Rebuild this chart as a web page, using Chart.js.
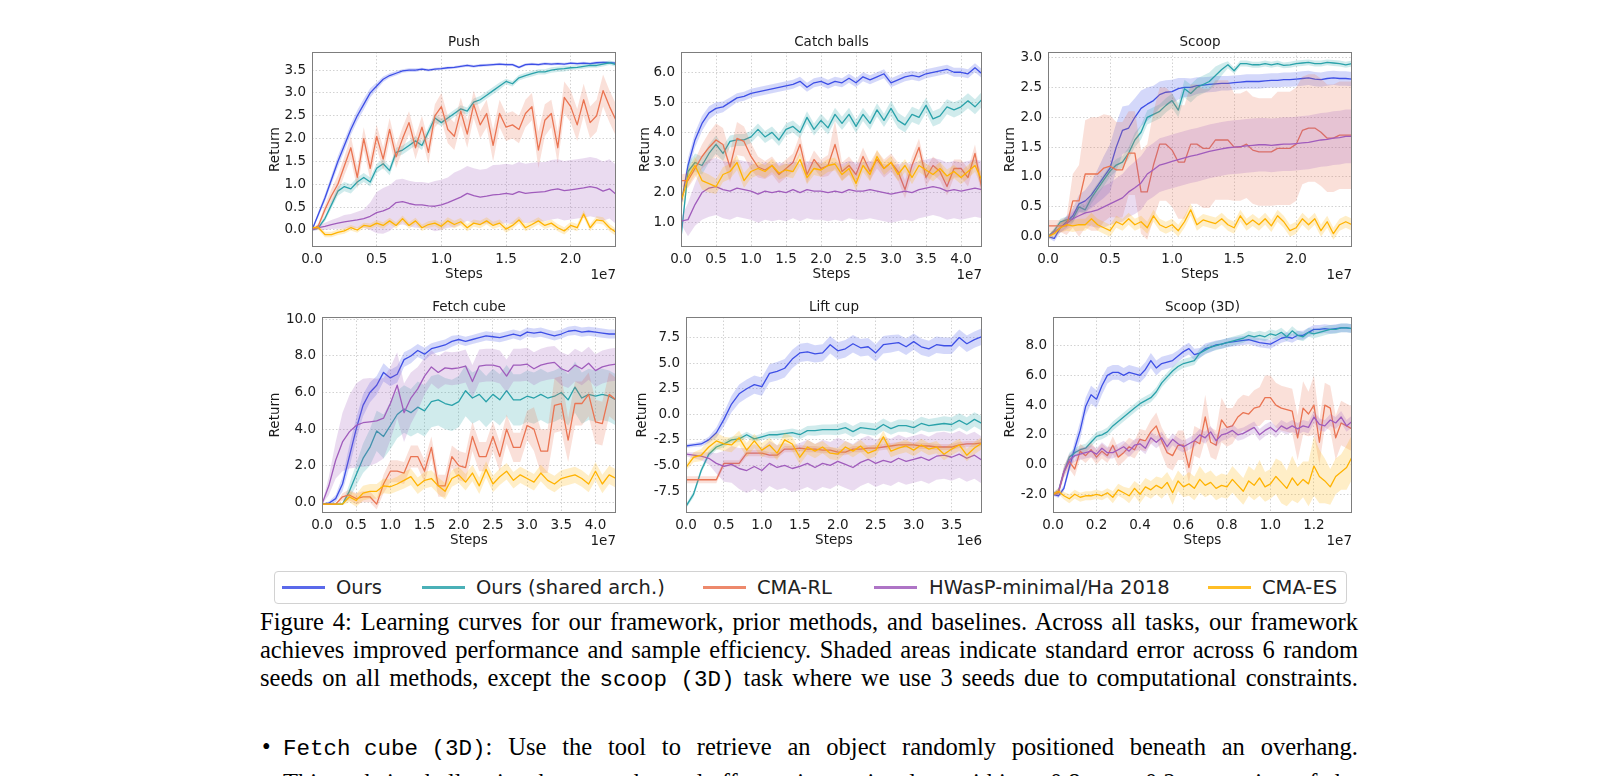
<!DOCTYPE html>
<html>
<head>
<meta charset="utf-8">
<title>Figure 4 learning curves</title>
<script src="https://cdn.jsdelivr.net/npm/chart.js@4.4.1/dist/chart.umd.min.js"></script>
<style>
html,body{margin:0;padding:0;background:#fff;}
body{width:1618px;height:776px;overflow:hidden;position:relative;font-family:"DejaVu Sans",sans-serif;color:#000;}
.plot{position:absolute;}
.plot canvas{display:block;}
#legend{position:absolute;left:274px;top:571px;width:1073px;height:33px;border:1px solid #d2d2d2;border-radius:4px;box-sizing:border-box;background:#fff;}
.lg-line{position:absolute;top:14px;height:3px;width:43px;opacity:.85;}
.lg-text{position:absolute;top:4px;font-size:19.5px;line-height:24px;white-space:nowrap;color:#222;}
.cap{position:absolute;left:260px;width:1098px;font-family:"Liberation Serif",serif;font-size:24.5px;line-height:28px;white-space:nowrap;text-align:justify;text-align-last:justify;}
.tt{font-family:"Liberation Mono",monospace;font-size:22.5px;display:inline-block;}
.bullet{position:absolute;left:262px;font-family:"Liberation Serif",serif;font-size:24.5px;line-height:28px;}
</style>
</head>
<body>
<div id="legend"></div>
<div class="cap" style="top:608px">Figure 4: Learning curves for our framework, prior methods, and baselines. Across all tasks, our framework</div>
<div class="cap" style="top:636px">achieves improved performance and sample efficiency. Shaded areas indicate standard error across 6 random</div>
<div class="cap" style="top:664px">seeds on all methods, except the <span class="tt">scoop (3D)</span> task where we use 3 seeds due to computational constraints.</div>
<div class="bullet" style="top:733px">&bull;</div>
<div class="cap" style="top:733px;left:283px;width:1075px"><span class="tt">Fetch cube (3D)</span>: Use the tool to retrieve an object randomly positioned beneath an overhang.</div>
<div class="cap" style="top:769px;left:283px;width:1075px">This task is challenging because the end-effector is restricted to within a 0.8 m &times; 0.2 m portion of the</div>
<script>
'use strict';

var seriesNames=['Ours','Ours (shared arch.)','CMA-RL','HWasP-minimal/Ha 2018','CMA-ES'];
var seriesColors=['#3d4fe6','#2aa2aa','#ea7452','#a05cbc','#ffb300'];

/* ---- Push (steps in 1e7) ---- */
var pushSteps=[0,0.05,0.1,0.15,0.2,0.25,0.3,0.35,0.4,0.45,
  0.5,0.55,0.6,0.65,0.7,0.75,0.8,0.85,0.9,0.95,
  1,1.05,1.1,1.15,1.2,1.25,1.3,1.35,1.4,1.45,
  1.5,1.55,1.6,1.65,1.7,1.75,1.8,1.85,1.9,1.95,
  2,2.05,2.1,2.15,2.2,2.25,2.3,2.35];
var pushOurs=[0.00,0.35,0.70,1.10,1.50,1.85,2.20,2.50,2.75,3.00,
  3.15,3.30,3.38,3.43,3.48,3.50,3.50,3.52,3.50,3.52,
  3.53,3.55,3.56,3.58,3.60,3.58,3.60,3.61,3.62,3.63,
  3.62,3.62,3.56,3.62,3.63,3.62,3.64,3.63,3.64,3.63,
  3.65,3.64,3.65,3.64,3.66,3.67,3.66,3.65];
var pushOursErr=[0.02,0.06,0.08,0.10,0.12,0.12,0.12,0.12,0.12,0.10,
  0.08,0.06,0.05,0.05,0.04,0.04,0.04,0.03,0.03,0.03,
  0.03,0.03,0.03,0.03,0.03,0.03,0.03,0.03,0.03,0.03,
  0.03,0.03,0.03,0.03,0.03,0.03,0.03,0.03,0.03,0.03,
  0.03,0.03,0.03,0.03,0.03,0.03,0.03,0.03];
var pushShared=[0.00,0.05,0.25,0.55,0.85,0.95,0.90,1.05,1.15,1.05,
  1.35,1.45,1.30,1.70,1.75,1.85,1.95,1.85,2.15,2.45,
  2.35,2.45,2.55,2.65,2.60,2.80,2.85,2.95,3.05,3.15,
  3.25,3.20,3.33,3.38,3.42,3.46,3.46,3.50,3.52,3.53,
  3.55,3.56,3.58,3.60,3.60,3.63,3.66,3.62];
var pushSharedErr=[0.02,0.04,0.06,0.08,0.10,0.10,0.10,0.10,0.10,0.10,
  0.10,0.10,0.10,0.10,0.10,0.10,0.10,0.10,0.10,0.10,
  0.08,0.08,0.08,0.08,0.08,0.08,0.08,0.08,0.08,0.08,
  0.06,0.06,0.06,0.06,0.06,0.06,0.06,0.06,0.06,0.06,
  0.05,0.05,0.05,0.05,0.05,0.05,0.05,0.05];
var pushCmarl=[0.00,0.10,0.45,0.75,1.00,1.40,1.80,1.15,2.00,1.35,
  2.05,1.55,2.20,1.60,2.00,2.35,1.80,2.25,1.70,2.50,
  2.70,2.20,2.05,2.60,2.10,2.75,2.30,2.55,1.85,2.55,
  2.25,2.30,2.20,2.55,2.70,1.75,2.40,2.55,1.80,2.90,
  2.70,2.30,2.85,2.35,2.50,3.05,2.70,2.40];
var pushCmarlErr=[0.02,0.05,0.10,0.15,0.20,0.20,0.25,0.25,0.25,0.25,
  0.25,0.25,0.25,0.25,0.25,0.25,0.25,0.25,0.25,0.25,
  0.30,0.30,0.30,0.30,0.30,0.30,0.30,0.30,0.35,0.30,
  0.30,0.30,0.30,0.30,0.30,0.40,0.35,0.30,0.35,0.35,
  0.35,0.35,0.35,0.35,0.35,0.35,0.35,0.35];
var pushHwasp=[0.00,0.05,0.08,0.12,0.15,0.18,0.20,0.22,0.25,0.30,
  0.38,0.42,0.48,0.60,0.62,0.58,0.55,0.55,0.53,0.52,
  0.55,0.60,0.66,0.72,0.80,0.75,0.72,0.74,0.77,0.78,
  0.80,0.78,0.84,0.80,0.82,0.83,0.84,0.88,0.90,0.86,
  0.88,0.90,0.92,0.95,0.92,0.85,0.90,0.78];
var pushHwaspErr=[0.02,0.05,0.08,0.10,0.12,0.15,0.15,0.18,0.20,0.30,
  0.45,0.50,0.50,0.50,0.50,0.50,0.50,0.50,0.50,0.55,
  0.55,0.55,0.60,0.60,0.60,0.60,0.60,0.60,0.65,0.65,
  0.65,0.65,0.65,0.65,0.65,0.65,0.65,0.65,0.65,0.65,
  0.65,0.65,0.65,0.65,0.65,0.65,0.65,0.65];
var pushCmaes=[0.05,0.05,-0.10,-0.10,-0.05,-0.02,0.05,0.00,0.10,0.08,
  0.15,0.10,0.20,0.10,0.25,0.10,0.20,0.05,0.12,0.15,
  0.08,0.20,0.12,0.18,0.05,0.15,0.12,0.20,0.10,0.15,
  0.02,0.10,0.22,0.05,0.12,0.20,0.10,0.15,0.05,-0.02,
  0.10,0.05,0.35,0.05,0.22,0.20,0.05,-0.05];
var pushCmaesErr=[0.03,0.05,0.06,0.06,0.06,0.06,0.06,0.06,0.06,0.06,
  0.07,0.07,0.07,0.07,0.07,0.07,0.07,0.07,0.07,0.07,
  0.08,0.08,0.08,0.08,0.08,0.08,0.08,0.08,0.08,0.08,
  0.08,0.08,0.08,0.08,0.08,0.08,0.08,0.08,0.08,0.08,
  0.08,0.08,0.08,0.08,0.08,0.08,0.08,0.08];
var pushXTicks=[0,0.5,1,1.5,2];
var pushYTicks=[0,0.5,1,1.5,2,2.5,3,3.5];

/* ---- Catch balls (steps in 1e7) ---- */
var catchSteps=[0,0.1,0.2,0.3,0.4,0.5,0.6,0.7,0.8,0.9,
  1,1.1,1.2,1.3,1.4,1.5,1.6,1.7,1.8,1.9,
  2,2.1,2.2,2.3,2.4,2.5,2.6,2.7,2.8,2.9,
  3,3.1,3.2,3.3,3.4,3.5,3.6,3.7,3.8,3.9,
  4,4.1,4.2,4.3];
var catchOurs=[1.60,2.90,3.75,4.30,4.65,4.80,4.85,5.00,5.15,5.20,
  5.30,5.35,5.40,5.45,5.50,5.55,5.60,5.70,5.50,5.65,
  5.70,5.60,5.70,5.65,5.80,5.65,5.85,5.75,5.85,5.95,
  5.65,5.75,5.85,5.90,5.85,5.95,6.00,6.05,6.10,6.00,
  6.00,5.95,6.15,5.95];
var catchOursErr=[0.10,0.25,0.25,0.25,0.22,0.20,0.18,0.16,0.15,0.15,
  0.15,0.15,0.15,0.15,0.15,0.15,0.15,0.15,0.15,0.15,
  0.15,0.15,0.15,0.15,0.15,0.15,0.15,0.15,0.15,0.15,
  0.15,0.15,0.15,0.15,0.15,0.15,0.15,0.15,0.15,0.15,
  0.15,0.15,0.15,0.15];
var catchShared=[0.50,2.70,3.00,2.90,3.30,3.60,3.30,3.70,3.75,3.75,
  3.85,4.10,3.85,4.00,3.75,4.10,4.20,4.00,4.50,4.10,
  4.40,4.15,4.60,4.30,4.60,4.20,4.60,4.30,4.75,4.40,
  4.80,4.40,4.25,4.60,4.50,4.90,4.45,4.55,4.85,4.75,
  4.85,5.05,4.85,5.10];
var catchSharedErr=[0.10,0.25,0.30,0.30,0.30,0.30,0.25,0.20,0.20,0.20,
  0.20,0.20,0.20,0.20,0.20,0.20,0.20,0.20,0.20,0.20,
  0.22,0.22,0.22,0.22,0.22,0.22,0.22,0.22,0.22,0.22,
  0.25,0.25,0.25,0.25,0.25,0.25,0.25,0.25,0.25,0.25,
  0.25,0.25,0.25,0.25];
var catchCmarl=[2.40,2.40,2.80,3.20,3.50,3.75,3.60,2.85,3.80,3.70,
  3.20,2.85,2.75,2.90,2.60,2.80,3.00,3.60,2.60,3.10,
  2.80,2.90,3.60,2.70,2.90,2.60,3.20,2.70,3.10,2.80,
  3.00,2.70,2.10,2.90,3.50,2.50,2.90,2.70,2.20,2.80,
  2.80,2.50,3.30,2.10];
var catchCmarlErr=[0.20,0.25,0.30,0.40,0.50,0.55,0.55,0.50,0.55,0.50,
  0.45,0.35,0.30,0.30,0.30,0.30,0.30,0.35,0.30,0.30,
  0.30,0.35,0.80,0.30,0.30,0.30,0.30,0.30,0.30,0.30,
  0.30,0.30,0.30,0.30,0.30,0.30,0.30,0.30,0.30,0.30,
  0.30,0.30,0.30,0.30];
var catchHwasp=[1.05,1.10,1.60,2.00,2.15,2.20,2.10,2.05,2.15,2.10,
  2.05,1.95,2.05,2.00,2.05,2.00,2.10,2.00,2.10,2.05,
  2.05,2.00,2.05,2.00,2.10,2.05,2.05,2.10,2.05,2.00,
  1.95,2.00,2.05,2.00,2.10,2.15,2.20,2.15,2.05,2.10,
  2.05,2.10,2.15,2.10];
var catchHwaspErr=[0.10,0.55,0.70,0.90,0.95,0.95,0.95,0.95,0.95,0.95,
  0.95,0.95,0.95,0.95,0.95,0.95,0.95,0.95,0.95,0.95,
  0.95,0.95,0.95,0.95,0.95,0.95,0.95,0.95,0.95,0.95,
  0.95,0.95,0.95,0.95,0.95,0.95,0.95,0.95,0.95,0.95,
  0.95,0.95,0.95,0.95];
var catchCmaes=[1.70,2.50,2.90,2.40,2.30,2.20,2.60,2.70,3.00,2.40,
  2.70,2.80,2.70,2.90,2.65,2.75,2.70,3.10,2.50,2.80,
  2.75,2.90,2.95,2.60,2.80,2.30,2.90,2.60,3.20,2.80,
  3.00,2.60,2.90,2.50,2.90,2.75,2.60,2.80,2.55,2.70,
  2.50,2.70,2.90,2.40];
var catchCmaesErr=[0.30,0.30,0.30,0.30,0.30,0.25,0.25,0.25,0.25,0.25,
  0.22,0.22,0.22,0.22,0.22,0.22,0.22,0.22,0.22,0.22,
  0.22,0.22,0.22,0.22,0.22,0.22,0.22,0.22,0.22,0.22,
  0.22,0.22,0.22,0.22,0.22,0.22,0.22,0.22,0.22,0.22,
  0.22,0.22,0.22,0.22];
var catchXTicks=[0,0.5,1,1.5,2,2.5,3,3.5,4];
var catchYTicks=[1,2,3,4,5,6];

/* ---- Scoop (steps in 1e7) ---- */
var scoopSteps=[0,0.05,0.1,0.15,0.2,0.25,0.3,0.35,0.4,0.45,
  0.5,0.55,0.6,0.65,0.7,0.75,0.8,0.85,0.9,0.95,
  1,1.05,1.1,1.15,1.2,1.25,1.3,1.35,1.4,1.45,
  1.5,1.55,1.6,1.65,1.7,1.75,1.8,1.85,1.9,1.95,
  2,2.05,2.1,2.15,2.2,2.25,2.3,2.35,2.4,2.45];
var scoopOurs=[0.00,-0.03,0.15,0.25,0.35,0.55,0.60,0.70,0.85,1.00,
  1.15,1.50,1.78,1.82,2.00,2.15,2.22,2.28,2.38,2.42,
  2.43,2.48,2.50,2.50,2.53,2.54,2.55,2.56,2.57,2.57,
  2.58,2.59,2.60,2.60,2.60,2.61,2.62,2.62,2.63,2.63,
  2.64,2.65,2.66,2.64,2.63,2.65,2.66,2.65,2.65,2.64];
var scoopOursErr=[0.02,0.05,0.08,0.10,0.12,0.15,0.18,0.22,0.28,0.35,
  0.40,0.40,0.40,0.38,0.32,0.30,0.28,0.25,0.22,0.20,
  0.20,0.18,0.16,0.15,0.14,0.13,0.13,0.13,0.12,0.12,
  0.12,0.12,0.12,0.12,0.12,0.12,0.12,0.12,0.12,0.12,
  0.12,0.12,0.12,0.12,0.12,0.12,0.12,0.12,0.12,0.12];
var scoopShared=[0.00,0.10,0.25,0.28,0.30,0.50,0.45,0.65,0.80,0.95,
  1.10,1.20,1.25,1.40,1.62,1.75,2.00,2.05,2.10,2.20,
  2.28,2.12,2.48,2.40,2.50,2.55,2.60,2.70,2.80,2.88,
  2.78,2.90,2.90,2.88,2.88,2.90,2.88,2.90,2.87,2.88,
  2.90,2.91,2.92,2.90,2.90,2.92,2.91,2.90,2.88,2.90];
var scoopSharedErr=[0.02,0.04,0.05,0.06,0.06,0.08,0.08,0.10,0.10,0.10,
  0.10,0.10,0.10,0.10,0.12,0.12,0.12,0.12,0.12,0.12,
  0.12,0.12,0.15,0.15,0.15,0.15,0.15,0.15,0.10,0.06,
  0.05,0.05,0.05,0.05,0.05,0.05,0.05,0.05,0.05,0.05,
  0.05,0.05,0.05,0.05,0.05,0.05,0.05,0.05,0.05,0.05];
var scoopCmarl=[0.18,0.18,0.18,0.18,0.60,0.60,1.05,1.05,1.05,1.15,
  1.18,1.12,1.12,1.40,1.40,0.75,0.75,1.20,1.55,1.55,
  1.45,1.25,1.25,1.55,1.55,1.48,1.48,1.62,1.62,1.62,
  1.50,1.50,1.55,1.45,1.42,1.42,1.42,1.48,1.48,1.48,
  1.55,1.78,1.82,1.82,1.75,1.65,1.65,1.70,1.70,1.70];
var scoopCmarlErr=[0.10,0.10,0.10,0.15,0.45,0.60,0.90,0.95,0.95,0.90,
  0.85,0.80,0.80,0.70,0.70,0.70,0.80,0.90,0.95,0.95,
  0.95,0.95,0.95,1.00,1.00,1.00,1.00,1.00,1.00,1.00,
  0.90,0.90,0.90,0.90,0.90,0.90,0.90,0.95,0.95,0.95,
  0.95,0.90,0.90,0.90,0.90,0.90,0.90,0.90,0.90,0.90];
var scoopHwasp=[0.00,0.08,0.15,0.22,0.30,0.35,0.40,0.42,0.45,0.50,
  0.55,0.60,0.65,0.75,0.82,0.90,1.05,1.12,1.20,1.23,
  1.26,1.29,1.32,1.35,1.37,1.40,1.43,1.45,1.47,1.49,
  1.50,1.51,1.52,1.53,1.54,1.54,1.53,1.54,1.55,1.55,
  1.56,1.57,1.58,1.60,1.62,1.63,1.65,1.66,1.68,1.68];
var scoopHwaspErr=[0.02,0.05,0.08,0.10,0.12,0.15,0.20,0.25,0.30,0.35,
  0.35,0.38,0.40,0.42,0.44,0.45,0.45,0.45,0.45,0.45,
  0.45,0.45,0.45,0.45,0.45,0.45,0.45,0.45,0.45,0.45,
  0.45,0.45,0.45,0.45,0.45,0.45,0.45,0.45,0.45,0.45,
  0.45,0.45,0.45,0.45,0.45,0.45,0.45,0.45,0.45,0.45];
var scoopCmaes=[0.00,0.05,0.15,0.20,0.18,0.20,0.20,0.30,0.20,0.15,
  0.10,0.25,0.20,0.30,0.20,0.25,0.15,0.35,0.20,0.15,
  0.20,0.10,0.25,0.45,0.20,0.28,0.25,0.22,0.30,0.20,
  0.15,0.35,0.20,0.28,0.20,0.30,0.18,0.35,0.25,0.10,
  0.15,0.30,0.20,0.30,0.10,0.25,0.05,0.20,0.25,0.20];
var scoopCmaesErr=[0.05,0.06,0.08,0.10,0.10,0.10,0.10,0.10,0.10,0.10,
  0.10,0.10,0.10,0.10,0.10,0.10,0.10,0.10,0.10,0.10,
  0.10,0.10,0.10,0.10,0.10,0.10,0.10,0.10,0.10,0.10,
  0.10,0.10,0.10,0.10,0.10,0.10,0.10,0.10,0.10,0.10,
  0.10,0.10,0.10,0.10,0.10,0.10,0.10,0.10,0.10,0.10];
var scoopXTicks=[0,0.5,1,1.5,2];
var scoopYTicks=[0,0.5,1,1.5,2,2.5,3];

/* ---- Fetch cube (steps in 1e7) ---- */
var fetchSteps=[0,0.1,0.2,0.3,0.4,0.5,0.6,0.7,0.8,0.9,
  1,1.1,1.2,1.3,1.4,1.5,1.6,1.7,1.8,1.9,
  2,2.1,2.2,2.3,2.4,2.5,2.6,2.7,2.8,2.9,
  3,3.1,3.2,3.3,3.4,3.5,3.6,3.7,3.8,3.9,
  4,4.1,4.2,4.3];
var fetchOurs=[-0.10,-0.05,0.20,1.00,2.50,4.00,5.30,6.00,6.40,7.10,
  6.80,7.00,7.80,8.00,8.30,8.10,8.40,8.50,8.60,8.80,
  8.90,8.80,8.90,9.00,9.10,9.05,9.00,9.10,9.20,9.10,
  9.30,9.25,9.30,9.20,9.10,9.20,9.35,9.40,9.30,9.35,
  9.30,9.25,9.20,9.20];
var fetchOursErr=[0.02,0.10,0.20,0.40,0.60,0.60,0.60,0.55,0.50,0.50,
  0.45,0.45,0.40,0.40,0.35,0.35,0.30,0.30,0.30,0.30,
  0.25,0.25,0.25,0.25,0.25,0.25,0.25,0.25,0.25,0.25,
  0.25,0.25,0.25,0.25,0.25,0.25,0.25,0.25,0.25,0.25,
  0.25,0.25,0.25,0.25];
var fetchShared=[-0.10,-0.10,-0.10,-0.10,0.60,1.50,2.40,3.00,3.90,3.60,
  4.20,4.80,5.10,4.90,5.20,5.00,5.50,5.60,5.40,5.30,
  5.50,6.10,5.70,5.90,5.50,5.90,5.60,6.10,5.60,5.60,
  5.80,5.70,5.90,5.70,5.80,6.00,5.60,6.30,5.70,5.90,
  5.80,5.90,5.80,5.60];
var fetchSharedErr=[0.02,0.02,0.02,0.05,0.40,0.60,0.80,1.00,1.10,1.20,
  1.30,1.30,1.30,1.30,1.40,1.40,1.40,1.40,1.40,1.40,
  1.40,1.40,1.40,1.40,1.40,1.40,1.40,1.40,1.40,1.40,
  1.40,1.40,1.40,1.40,1.40,1.40,1.40,1.40,1.40,1.40,
  1.40,1.40,1.40,1.40];
var fetchCmarl=[-0.10,-0.10,-0.10,0.30,0.40,0.20,0.30,0.30,-0.10,1.00,
  1.70,1.70,1.60,2.50,2.50,1.70,3.00,0.90,0.90,2.50,
  2.00,1.90,3.60,2.50,2.50,3.60,2.50,4.00,3.00,3.00,
  4.20,4.00,2.80,2.80,5.30,5.40,3.40,5.40,5.40,5.90,
  4.40,4.30,5.90,5.60];
var fetchCmarlErr=[0.02,0.02,0.02,0.20,0.30,0.30,0.30,0.30,0.30,0.50,
  0.60,0.60,0.60,0.60,0.60,0.60,0.60,0.60,0.60,0.60,
  0.80,0.80,0.80,0.80,0.80,0.80,0.80,0.80,0.80,0.80,
  0.80,1.20,1.20,1.20,1.50,1.50,1.20,1.20,1.20,1.20,
  1.20,1.20,1.20,1.20];
var fetchHwasp=[-0.10,0.90,2.30,3.30,3.85,4.20,4.35,4.40,4.45,4.60,
  5.40,6.40,4.90,5.70,6.20,6.90,7.40,7.10,7.35,7.30,
  7.35,7.45,6.60,7.45,7.50,7.50,7.40,6.90,7.50,7.50,
  7.55,7.30,7.50,7.60,7.65,7.30,7.15,7.50,7.30,7.60,
  7.20,7.40,7.50,7.55];
var fetchHwaspErr=[0.02,0.50,1.00,1.60,2.00,2.30,2.40,2.40,2.30,2.20,
  2.00,1.80,1.60,1.40,1.20,1.00,0.90,0.90,0.90,0.90,
  0.90,0.90,0.90,0.90,0.90,0.90,0.90,0.90,0.90,0.90,
  0.90,0.90,0.90,0.90,0.90,0.90,0.90,0.90,0.90,0.90,
  0.90,0.90,0.90,0.90];
var fetchCmaes=[-0.10,-0.10,-0.10,-0.10,0.30,0.10,0.50,0.60,0.60,0.90,
  0.85,1.00,1.20,1.40,0.90,1.20,1.30,0.90,0.60,1.30,
  1.50,1.10,1.60,0.90,1.80,1.00,1.40,1.70,1.20,1.50,
  1.30,1.10,1.60,1.20,1.00,1.30,1.40,1.50,1.30,1.00,
  1.70,1.00,1.50,1.30];
var fetchCmaesErr=[0.02,0.02,0.02,0.05,0.30,0.35,0.40,0.40,0.40,0.40,
  0.40,0.40,0.45,0.45,0.45,0.45,0.45,0.45,0.45,0.45,
  0.45,0.45,0.45,0.45,0.45,0.45,0.45,0.45,0.45,0.45,
  0.45,0.45,0.45,0.45,0.45,0.45,0.45,0.45,0.45,0.45,
  0.50,0.50,0.50,0.50];
var fetchXTicks=[0,0.5,1,1.5,2,2.5,3,3.5,4];
var fetchYTicks=[0,2,4,6,8,10];

/* ---- Lift cup (steps in 1e6) ---- */
var liftSteps=[0,0.1,0.2,0.3,0.4,0.5,0.6,0.7,0.8,0.9,
  1,1.1,1.2,1.3,1.4,1.5,1.6,1.7,1.8,1.9,
  2,2.1,2.2,2.3,2.4,2.5,2.6,2.7,2.8,2.9,
  3,3.1,3.2,3.3,3.4,3.5,3.6,3.7,3.8,3.9];
var liftOurs=[-3.10,-3.00,-2.90,-2.50,-1.80,-0.50,1.00,2.00,2.50,2.90,
  2.70,4.00,4.20,4.50,5.40,6.00,6.10,5.90,6.00,6.80,
  6.20,6.40,6.90,6.50,6.60,6.00,6.80,6.90,7.00,6.60,
  7.10,6.60,6.40,6.80,6.70,6.70,7.50,6.90,7.30,7.60];
var liftOursErr=[0.20,0.20,0.25,0.30,0.50,0.70,0.80,0.90,0.90,0.90,
  0.90,0.90,0.90,0.90,0.90,0.90,0.90,0.85,0.85,0.85,
  0.85,0.85,0.85,0.85,0.85,0.85,0.85,0.85,0.80,0.80,
  0.80,0.80,0.80,0.80,0.80,0.80,0.80,0.80,0.80,0.80];
var liftShared=[-9.00,-7.80,-5.50,-3.90,-3.20,-2.90,-2.50,-2.40,-2.00,-2.40,
  -2.20,-2.00,-2.00,-1.90,-1.80,-2.00,-1.60,-1.60,-1.50,-1.50,
  -1.50,-1.30,-1.70,-1.30,-1.40,-1.50,-1.00,-1.40,-1.10,-1.10,
  -1.30,-0.90,-1.10,-1.00,-0.90,-1.00,-0.60,-1.00,-0.50,-0.90];
var liftSharedErr=[0.20,0.30,0.30,0.30,0.30,0.30,0.30,0.30,0.30,0.30,
  0.30,0.35,0.40,0.40,0.40,0.45,0.45,0.50,0.50,0.50,
  0.55,0.55,0.55,0.55,0.60,0.60,0.60,0.60,0.60,0.60,
  0.65,0.65,0.65,0.65,0.70,0.70,0.70,0.70,0.70,0.70];
var liftCmarl=[-6.40,-6.40,-6.40,-6.40,-6.40,-4.80,-4.80,-4.80,-3.80,-3.80,
  -3.80,-4.00,-4.00,-3.40,-3.40,-3.30,-3.40,-3.40,-3.50,-3.50,
  -3.70,-3.70,-3.40,-3.40,-3.30,-3.30,-3.20,-3.10,-3.00,-3.00,
  -3.00,-3.10,-3.10,-3.20,-3.20,-3.20,-3.00,-2.90,-2.90,-2.80];
var liftCmarlErr=[0.35,0.35,0.35,0.35,0.35,0.30,0.30,0.30,0.30,0.30,
  0.30,0.30,0.30,0.30,0.30,0.30,0.30,0.30,0.30,0.30,
  0.30,0.30,0.30,0.30,0.30,0.30,0.30,0.30,0.30,0.30,
  0.30,0.30,0.30,0.30,0.30,0.30,0.30,0.30,0.30,0.30];
var liftHwasp=[-3.90,-4.00,-4.10,-4.30,-4.80,-5.10,-4.90,-5.30,-5.50,-5.10,
  -5.50,-4.80,-5.20,-5.00,-5.30,-5.10,-4.80,-5.20,-4.80,-5.00,
  -4.60,-4.90,-5.20,-4.70,-4.40,-4.80,-4.50,-4.70,-4.30,-4.60,
  -4.40,-4.20,-4.50,-4.10,-4.00,-4.20,-3.90,-4.30,-4.00,-4.50];
var liftHwaspErr=[0.20,0.30,0.40,0.60,1.00,1.50,1.80,2.00,2.20,2.20,
  2.20,2.20,2.20,2.20,2.30,2.30,2.30,2.30,2.30,2.30,
  2.30,2.30,2.30,2.30,2.30,2.30,2.30,2.30,2.30,2.30,
  2.30,2.30,2.30,2.30,2.30,2.30,2.30,2.30,2.30,2.30];
var liftCmaes=[-5.20,-4.20,-4.00,-3.20,-2.60,-2.90,-3.00,-2.30,-3.50,-2.60,
  -3.50,-3.00,-3.80,-2.50,-2.90,-4.20,-3.20,-3.60,-3.20,-3.80,
  -3.90,-3.20,-3.60,-3.10,-3.80,-3.50,-2.20,-3.60,-3.30,-3.10,
  -3.50,-3.00,-3.40,-3.20,-3.90,-3.40,-3.00,-4.00,-3.30,-2.80];
var liftCmaesErr=[0.30,0.50,0.60,0.70,0.80,0.70,0.70,0.70,0.70,0.70,
  0.70,0.70,0.70,0.70,0.70,0.70,0.70,0.70,0.60,0.60,
  0.60,0.60,0.60,0.60,0.60,0.60,0.60,0.60,0.60,0.60,
  0.60,0.60,0.60,0.60,0.60,0.60,0.60,0.60,0.60,0.60];
var liftXTicks=[0,0.5,1,1.5,2,2.5,3,3.5];
var liftYTicks=[-7.5,-5,-2.5,0,2.5,5,7.5];

/* ---- Scoop (3D) (steps in 1e7) ---- */
var s3dSteps=[0,0.025,0.05,0.075,0.1,0.125,0.15,0.175,0.2,0.225,
  0.25,0.275,0.3,0.325,0.35,0.375,0.4,0.425,0.45,0.475,
  0.5,0.525,0.55,0.575,0.6,0.625,0.65,0.675,0.7,0.725,
  0.75,0.775,0.8,0.825,0.85,0.875,0.9,0.925,0.95,0.975,
  1,1.025,1.05,1.075,1.1,1.125,1.15,1.175,1.2,1.225,
  1.25,1.275,1.3,1.325,1.35,1.375];
var s3dOurs=[-2.00,-2.10,-1.60,-0.20,1.10,2.30,3.90,4.70,4.40,5.30,
  6.00,6.20,6.20,6.00,6.20,6.10,6.00,6.40,7.00,6.50,
  6.80,6.90,7.00,7.30,7.60,7.80,7.40,7.50,7.80,7.90,
  8.05,8.10,8.20,8.25,8.30,8.35,8.40,8.30,8.20,8.15,
  8.10,8.30,8.50,8.60,8.50,8.70,8.70,8.90,9.10,9.10,
  9.15,9.10,9.15,9.20,9.20,9.15];
var s3dOursErr=[0.10,0.15,0.20,0.30,0.50,0.60,0.60,0.60,0.60,0.60,
  0.55,0.50,0.50,0.50,0.50,0.50,0.50,0.50,0.50,0.50,
  0.45,0.45,0.45,0.40,0.40,0.40,0.40,0.35,0.35,0.35,
  0.30,0.30,0.30,0.30,0.30,0.30,0.30,0.30,0.30,0.30,
  0.30,0.30,0.30,0.30,0.30,0.30,0.30,0.30,0.30,0.30,
  0.30,0.30,0.30,0.30,0.30,0.30];
var s3dShared=[-2.00,-1.80,-0.50,0.50,0.80,1.00,1.10,1.50,1.90,2.00,
  2.20,2.60,2.90,3.20,3.50,3.80,4.10,4.30,4.50,4.90,
  5.50,5.90,6.30,6.60,6.80,6.90,7.00,7.50,7.70,7.90,
  8.00,8.10,8.20,8.30,8.40,8.50,8.70,8.60,8.70,8.60,
  8.80,8.70,8.90,8.60,9.00,8.70,8.60,8.90,8.80,8.90,
  9.00,9.10,9.10,9.20,9.20,9.15];
var s3dSharedErr=[0.10,0.20,0.30,0.30,0.30,0.30,0.30,0.30,0.30,0.30,
  0.30,0.30,0.30,0.30,0.30,0.30,0.30,0.30,0.30,0.30,
  0.30,0.30,0.30,0.30,0.30,0.30,0.30,0.30,0.30,0.30,
  0.30,0.30,0.30,0.30,0.30,0.30,0.30,0.30,0.30,0.30,
  0.30,0.30,0.30,0.30,0.30,0.30,0.30,0.30,0.30,0.30,
  0.30,0.30,0.30,0.30,0.30,0.30];
var s3dCmarl=[-2.00,-1.90,-0.50,0.20,-0.30,0.90,0.60,1.00,0.50,0.90,
  0.60,1.30,0.50,0.80,1.20,1.00,1.70,1.60,2.20,2.60,
  1.60,0.80,0.60,1.30,1.30,-0.20,1.60,1.40,3.20,1.50,
  1.30,3.00,2.50,2.60,3.20,3.50,3.40,3.80,3.90,4.50,
  4.50,4.00,3.80,3.70,3.60,1.80,3.80,3.40,4.00,1.50,
  4.00,3.80,1.80,2.80,2.60,2.40];
var s3dCmarlErr=[0.10,0.20,0.40,0.50,0.50,0.50,0.50,0.50,0.50,0.50,
  0.50,0.60,0.60,0.60,0.60,0.60,0.70,0.70,0.80,0.90,
  0.90,1.00,1.00,1.00,1.00,1.00,1.00,1.00,1.50,1.00,
  1.00,1.50,1.30,1.20,1.20,1.20,1.20,1.20,1.30,1.50,
  1.50,1.50,1.50,1.50,1.50,1.50,1.80,1.50,2.00,1.50,
  1.50,1.50,1.50,1.50,1.50,1.50];
var s3dHwasp=[-2.00,-1.80,-0.50,0.30,0.60,0.70,0.80,0.90,0.70,1.10,
  0.80,0.80,1.00,1.20,0.90,1.30,1.40,1.10,1.80,1.50,
  1.80,1.20,1.70,1.40,1.20,1.40,1.60,2.00,1.80,2.20,
  1.60,2.00,2.10,2.30,2.00,2.10,2.30,2.50,2.00,2.30,
  2.50,2.20,2.60,2.40,2.60,2.40,2.60,2.50,3.20,2.70,
  2.60,3.00,2.80,3.20,2.60,2.90];
var s3dHwaspErr=[0.10,0.20,0.30,0.40,0.40,0.40,0.40,0.40,0.40,0.40,
  0.40,0.40,0.40,0.40,0.40,0.40,0.40,0.40,0.40,0.40,
  0.40,0.40,0.40,0.40,0.40,0.40,0.40,0.40,0.40,0.40,
  0.40,0.40,0.40,0.40,0.40,0.40,0.40,0.40,0.40,0.40,
  0.40,0.40,0.40,0.40,0.40,0.40,0.40,0.40,0.40,0.40,
  0.40,0.40,0.40,0.40,0.40,0.40];
var s3dCmaes=[-2.00,-1.80,-2.10,-2.30,-2.00,-2.20,-2.10,-2.10,-2.00,-2.10,
  -1.90,-2.20,-1.70,-1.90,-2.10,-1.60,-2.00,-1.50,-1.70,-1.40,
  -1.60,-1.20,-1.90,-1.10,-1.50,-1.30,-1.60,-1.00,-1.40,-1.20,
  -1.60,-1.40,-1.50,-1.00,-1.40,-1.80,-1.10,-1.40,-0.90,-1.50,
  -1.30,-0.80,-1.20,-1.60,-0.90,-1.40,-1.00,-1.30,-0.10,-0.80,
  -1.10,-1.50,-0.80,-0.50,-0.20,0.50];
var s3dCmaesErr=[0.10,0.20,0.25,0.30,0.30,0.30,0.30,0.30,0.30,0.30,
  0.30,0.40,0.40,0.40,0.50,0.50,0.60,0.60,0.60,0.60,
  0.70,0.70,0.80,0.70,0.70,0.80,0.80,0.90,0.80,0.80,
  0.80,0.80,0.80,0.90,0.90,0.90,1.00,1.00,1.20,1.00,
  1.00,1.20,1.40,1.20,1.50,1.20,1.20,1.50,2.00,1.80,
  1.50,1.20,1.20,1.20,1.50,1.50];
var s3dXTicks=[0,0.2,0.4,0.6,0.8,1,1.2];
var s3dYTicks=[-2,0,2,4,6,8];

/* ---- panel table (layout kept apart from the data) ---- */
var panels=[
  {title:'Push',offset:'1e7',steps:pushSteps,
   means:[pushOurs,pushShared,pushCmarl,pushHwasp,pushCmaes],
   errs:[pushOursErr,pushSharedErr,pushCmarlErr,pushHwaspErr,pushCmaesErr],
   xTicks:pushXTicks,yTicks:pushYTicks,xMax:2.35,yMin:-0.372,yMax:3.895,
   box:{l:312,r:616,t:52,b:247,yw:45}},
  {title:'Catch balls',offset:'1e7',steps:catchSteps,
   means:[catchOurs,catchShared,catchCmarl,catchHwasp,catchCmaes],
   errs:[catchOursErr,catchSharedErr,catchCmarlErr,catchHwaspErr,catchCmaesErr],
   xTicks:catchXTicks,yTicks:catchYTicks,xMax:4.3,yMin:0.19,yMax:6.674,
   box:{l:681,r:982,t:52,b:247,yw:44}},
  {title:'Scoop',offset:'1e7',steps:scoopSteps,
   means:[scoopOurs,scoopShared,scoopCmarl,scoopHwasp,scoopCmaes],
   errs:[scoopOursErr,scoopSharedErr,scoopCmarlErr,scoopHwaspErr,scoopCmaesErr],
   xTicks:scoopXTicks,yTicks:scoopYTicks,xMax:2.45,yMin:-0.173,yMax:3.094,
   box:{l:1048,r:1352,t:52,b:247,yw:46}},
  {title:'Fetch cube',offset:'1e7',steps:fetchSteps,
   means:[fetchOurs,fetchShared,fetchCmarl,fetchHwasp,fetchCmaes],
   errs:[fetchOursErr,fetchSharedErr,fetchCmarlErr,fetchHwaspErr,fetchCmaesErr],
   xTicks:fetchXTicks,yTicks:fetchYTicks,xMax:4.3,yMin:-0.585,yMax:10.13,
   box:{l:322,r:616,t:317,b:513,yw:55}},
  {title:'Lift cup',offset:'1e6',steps:liftSteps,
   means:[liftOurs,liftShared,liftCmarl,liftHwasp,liftCmaes],
   errs:[liftOursErr,liftSharedErr,liftCmarlErr,liftHwaspErr,liftCmaesErr],
   xTicks:liftXTicks,yTicks:liftYTicks,xMax:3.9,yMin:-9.65,yMax:9.51,
   box:{l:686,r:982,t:317,b:513,yw:52}},
  {title:'Scoop (3D)',offset:'1e7',steps:s3dSteps,
   means:[s3dOurs,s3dShared,s3dCmarl,s3dHwasp,s3dCmaes],
   errs:[s3dOursErr,s3dSharedErr,s3dCmarlErr,s3dHwaspErr,s3dCmaesErr],
   xTicks:s3dXTicks,yTicks:s3dYTicks,xMax:1.375,yMin:-3.26,yMax:9.93,
   box:{l:1053,r:1352,t:317,b:513,yw:51}}
];

var TXT='#1a1a1a';
var FONT={family:'DejaVu Sans',size:13.5};

function rgba(hex,a){
  var n=parseInt(hex.slice(1),16);
  return 'rgba('+((n>>16)&255)+','+((n>>8)&255)+','+(n&255)+','+a+')';
}
function fmt1(v){return Number(v).toFixed(1);}

// frame on all four sides, the subplot title and the offset text (1e7)
var framePlugin={
  id:'frame',
  afterDraw:function(chart,args,opts){
    var a=chart.chartArea,ctx=chart.ctx;
    ctx.save();
    ctx.strokeStyle='#7d7d7d';ctx.lineWidth=1;
    ctx.strokeRect(a.left+0.5,a.top+0.5,a.right-a.left-1,a.bottom-a.top-1);
    ctx.fillStyle=TXT;
    ctx.font='13.5px "DejaVu Sans"';
    ctx.textBaseline='middle';
    ctx.textAlign='center';
    ctx.fillText(opts.title,(a.left+a.right)/2,a.top-10);
    ctx.textAlign='right';
    ctx.fillText(opts.offset,a.right,a.bottom+28);
    ctx.restore();
  }
};

function makePanel(p){
  var b=p.box;
  var left=b.l-b.yw-4,top=b.t-24;
  var w=b.r+6-left,h=b.b+38-top;
  var wrap=document.createElement('div');
  wrap.className='plot';
  wrap.style.left=left+'px';wrap.style.top=top+'px';
  wrap.style.width=w+'px';wrap.style.height=h+'px';
  var cv=document.createElement('canvas');
  wrap.appendChild(cv);document.body.appendChild(wrap);

  var ds=[];
  for(var k=0;k<seriesNames.length;k++){
    (function(k){
      var m=p.means[k],e=p.errs[k],col=seriesColors[k];
      ds.push({label:seriesNames[k]+' lo',data:p.steps.map(function(s,i){return {x:s,y:m[i]-e[i]};}),
        borderColor:'rgba(0,0,0,0)',borderWidth:0,pointRadius:0,fill:false,order:20-2*k});
      ds.push({label:seriesNames[k]+' hi',data:p.steps.map(function(s,i){return {x:s,y:m[i]+e[i]};}),
        borderColor:'rgba(0,0,0,0)',borderWidth:0,pointRadius:0,fill:'-1',backgroundColor:rgba(col,0.22),order:20-2*k});
      ds.push({label:seriesNames[k],data:p.steps.map(function(s,i){return {x:s,y:m[i]};}),
        borderColor:col,borderWidth:1.3,borderJoinStyle:'round',pointRadius:0,fill:false,tension:0,order:19-2*k});
    })(k);
  }

  var gridOpts={color:'#d2d2d2',lineWidth:1,drawTicks:false};
  var borderOpts={display:false,dash:[1.5,2]};
  new Chart(cv,{
    type:'line',
    data:{datasets:ds},
    plugins:[framePlugin],
    options:{
      responsive:true,maintainAspectRatio:false,animation:false,events:[],
      layout:{padding:{left:4,right:6,top:24,bottom:2}},
      plugins:{legend:{display:false},tooltip:{enabled:false},title:{display:false},
        frame:{title:p.title,offset:p.offset}},
      scales:{
        x:{type:'linear',min:0,max:p.xMax,
          afterBuildTicks:function(s){s.ticks=p.xTicks.map(function(v){return {value:v};});},
          afterFit:function(s){s.height=36;},
          grid:gridOpts,border:borderOpts,
          ticks:{padding:4,color:TXT,font:FONT,maxRotation:0,autoSkip:false,callback:fmt1},
          title:{display:true,text:'Steps',color:TXT,font:FONT,padding:0}},
        y:{type:'linear',min:p.yMin,max:p.yMax,
          afterBuildTicks:function(s){s.ticks=p.yTicks.map(function(v){return {value:v};});},
          afterFit:function(s){s.width=b.yw;},
          grid:gridOpts,border:borderOpts,
          ticks:{padding:6,color:TXT,font:FONT,autoSkip:false,callback:fmt1},
          title:{display:true,text:'Return',color:TXT,font:FONT,padding:0}}
      }
    }
  });
}

panels.forEach(makePanel);

// shared legend under the grid of plots
var legendLineX=[7,147,428,599,933];
var legendTextX=[61,201,482,654,987];
var lg=document.getElementById('legend');
seriesNames.forEach(function(name,k){
  var ln=document.createElement('div');
  ln.className='lg-line';ln.style.left=legendLineX[k]+'px';ln.style.background=seriesColors[k];
  var tx=document.createElement('div');
  tx.className='lg-text';tx.style.left=legendTextX[k]+'px';tx.textContent=name;
  lg.appendChild(ln);lg.appendChild(tx);
});
</script>
</body>
</html>
